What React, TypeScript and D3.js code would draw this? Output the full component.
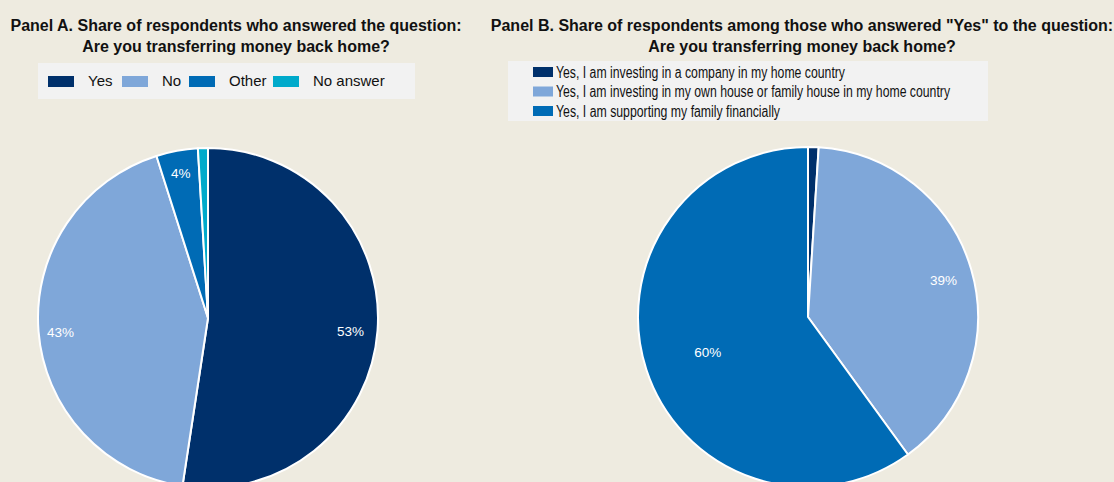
import React from "react";
import * as d3 from "d3";

const panelACategories = ["Yes", "No", "Other", "No answer"];
const panelAValues = [52.4, 42.7, 3.95, 0.95];
const panelALabels = ["53%", "43%", "4%", ""];
const panelAColors = ["#00306B", "#7FA7D9", "#006BB5", "#00AACB"];

const panelBCategories = [
  "Yes, I am investing in a company in my home country",
  "Yes, I am investing in my own house or family house in my home country",
  "Yes, I am supporting my family financially",
];
const panelBValues = [1, 39, 60];
const panelBLabels = ["", "39%", "60%"];
const panelBColors = ["#00306B", "#7FA7D9", "#006BB5"];

// label radius (fraction of pie radius) per slice – placement style only
const labelFracA = [0.84, 0.87, 0.88, 0.85];
const labelFracB = [0.85, 0.83, 0.62];

const W = 1114;
const H = 482;
const BG = "#EEEBE0";
const FONT = "'Liberation Sans', Arial, sans-serif";

function Pie({ cx, cy, r, values, colors, labels, labelFrac }: any) {
  const pie = d3.pie<number>().sort(null).value((d) => d);
  const arcs = pie(values);
  const arc = d3.arc<d3.PieArcDatum<number>>().innerRadius(0).outerRadius(r);
  return (
    <g transform={`translate(${cx},${cy})`}>
      {arcs.map((a, i) => (
        <path key={i} d={arc(a) || ""} fill={colors[i]} stroke="#fff" strokeWidth={2} strokeLinejoin="round" />
      ))}
      {arcs.map((a, i) => {
        const lr = r * labelFrac[i];
        const [x, y] = d3.arc<d3.PieArcDatum<number>>().innerRadius(lr).outerRadius(lr).centroid(a);
        return labels[i] ? (
          <text key={"l" + i} x={x} y={y + 3} fill="#fff" fontSize={13.5} textAnchor="middle" dominantBaseline="central" fontFamily={FONT}>
            {labels[i]}
          </text>
        ) : null;
      })}
    </g>
  );
}

export default function App() {
  const legendAX = [48, 122, 189, 273];
  const legendBWidths = [289, 394, 224];
  return (
    <svg width={W} height={H} style={{ position: "absolute", left: 0, top: 0 }}>
      <rect width={W} height={H} fill={BG} />
      <g fontFamily={FONT} fontWeight="bold" fontSize={16} fill="#111" textAnchor="middle">
        <text x={236} y={31}>Panel A. Share of respondents who answered the question:</text>
        <text x={236} y={52}>Are you transferring money back home?</text>
        <text x={802} y={31}>Panel B. Share of respondents among those who answered "Yes" to the question:</text>
        <text x={802} y={52}>Are you transferring money back home?</text>
      </g>
      <rect x={38} y={63} width={377} height={36} fill="#F2F2F2" />
      {panelACategories.map((c, i) => (
        <g key={c}>
          <rect x={legendAX[i]} y={76} width={26} height={11} fill={panelAColors[i]} />
          <text x={legendAX[i] + 40} y={86} fontSize={15} fontFamily={FONT} fill="#111">
            {c}
          </text>
        </g>
      ))}
      <rect x={508} y={61} width={480} height={60} fill="#F2F2F2" />
      {panelBCategories.map((c, i) => (
        <g key={c}>
          <rect x={533} y={67 + i * 19.5} width={20} height={10} fill={panelBColors[i]} />
          <text
            x={556}
            y={77.5 + i * 19.5}
            fontSize={16}
            fontFamily={FONT}
            fill="#111"
            textLength={legendBWidths[i]}
            lengthAdjust="spacingAndGlyphs"
          >
            {c}
          </text>
        </g>
      ))}
      <Pie cx={208} cy={318} r={170} values={panelAValues} colors={panelAColors} labels={panelALabels} labelFrac={labelFracA} />
      <Pie cx={808} cy={317} r={170} values={panelBValues} colors={panelBColors} labels={panelBLabels} labelFrac={labelFracB} />
    </svg>
  );
}
